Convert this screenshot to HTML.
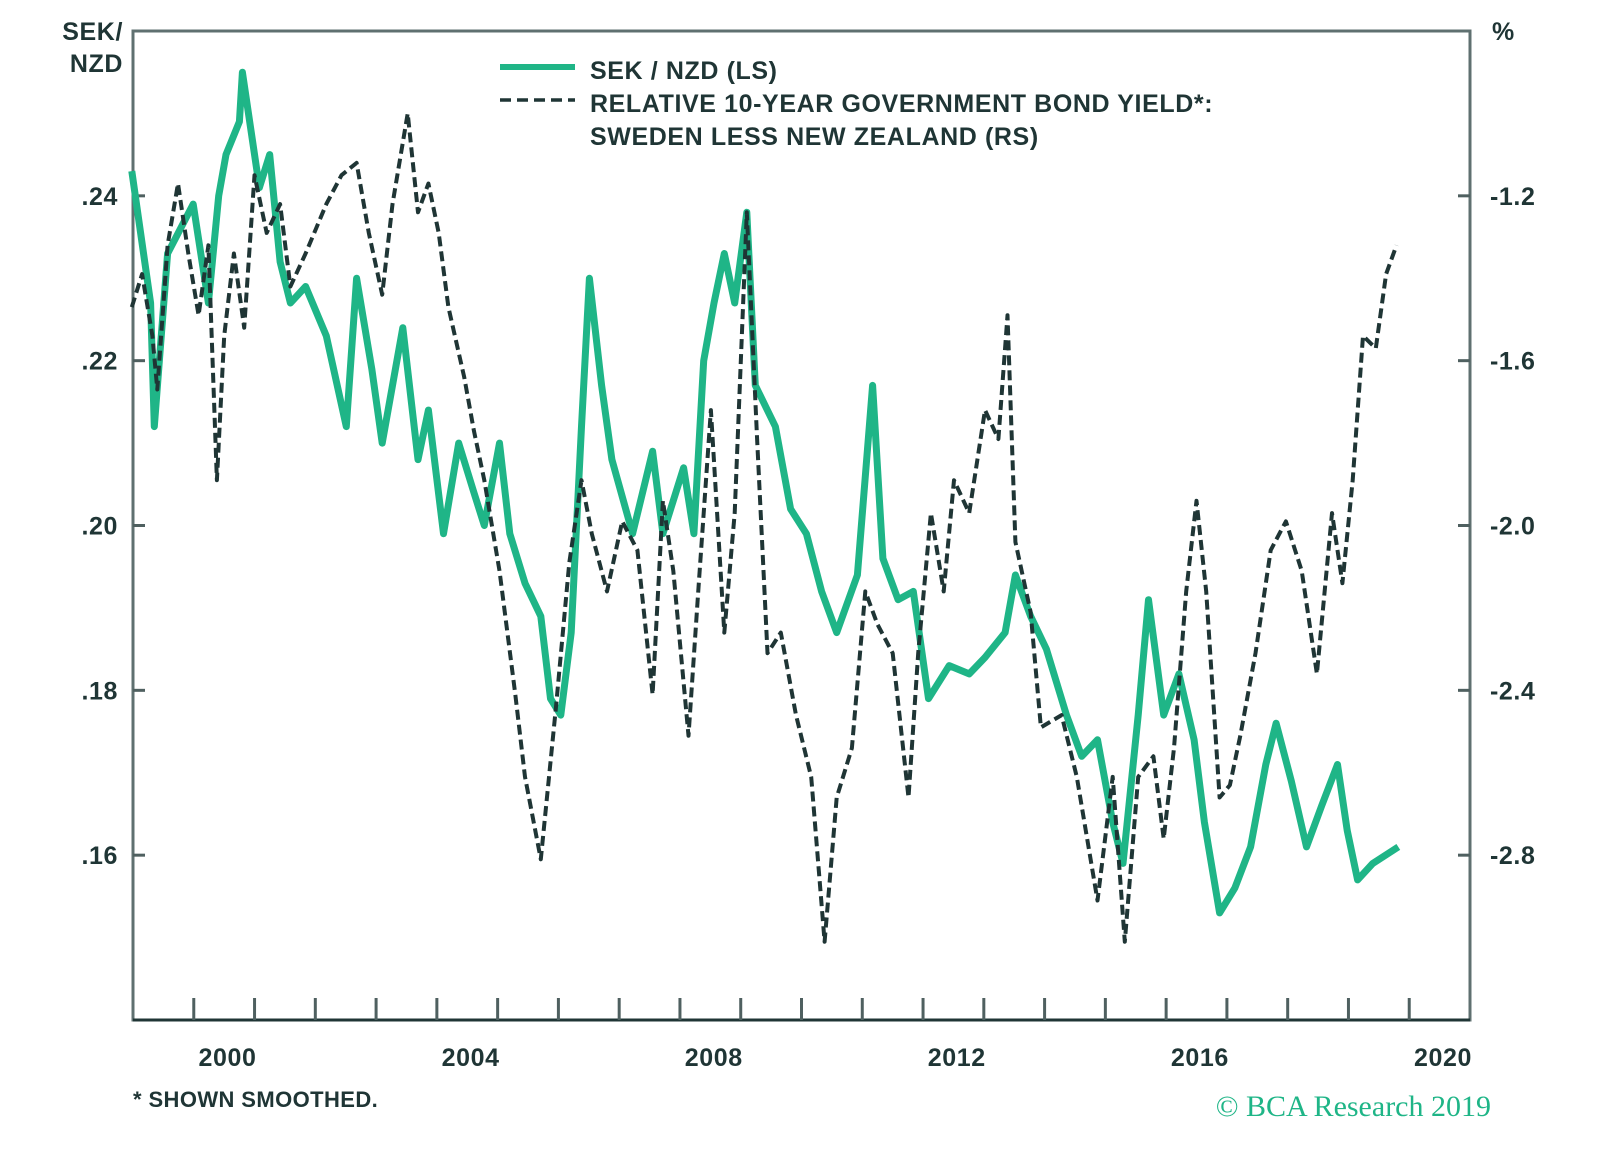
<!DOCTYPE html>
<html><head><meta charset="utf-8">
<style>
html,body{margin:0;padding:0;background:#fff;}
svg{display:block;font-family:"Liberation Sans",sans-serif;}
.lbl{font-weight:bold;fill:#1f3535;font-size:25px;letter-spacing:0.6px;}
</style></head>
<body>
<svg id="chart" width="1600" height="1161" viewBox="0 0 1600 1161" xmlns="http://www.w3.org/2000/svg">
<g id="axes"></g>
<g id="series"></g>
<g>
<line x1="500" y1="67" x2="575" y2="67" stroke="#1fb587" stroke-width="6"/>
<text class="lbl" x="590" y="79">SEK / NZD (LS)</text>
<line x1="500" y1="100" x2="575" y2="100" stroke="#1f3535" stroke-width="3.5" stroke-dasharray="11,6"/>
<text class="lbl" x="590" y="112">RELATIVE 10-YEAR GOVERNMENT BOND YIELD*:</text>
<text class="lbl" x="590" y="145">SWEDEN LESS NEW ZEALAND (RS)</text>
</g>
<text class="lbl" x="123" y="40" text-anchor="end">SEK/</text>
<text class="lbl" x="123" y="72" text-anchor="end">NZD</text>
<text class="lbl" x="1492" y="40">%</text>
<text class="lbl" x="133" y="1107" style="font-size:22px;letter-spacing:0.4px">* SHOWN SMOOTHED.</text>
<text x="1491" y="1116" text-anchor="end" style="font-family:'Liberation Serif',serif;font-size:30px;fill:#1fb587">© BCA Research 2019</text>
</svg>
<script>
const xMin = 1998, xMax = 2020;
const leftMin = 0.14, leftMax = 0.26;
const rightMin = -3.2, rightMax = -0.8;
const leftTicks = [0.16, 0.18, 0.20, 0.22, 0.24];
const leftTickLabels = [".16", ".18", ".20", ".22", ".24"];
const rightTicks = [-2.8, -2.4, -2.0, -1.6, -1.2];
const rightTickLabels = ["-2.8", "-2.4", "-2.0", "-1.6", "-1.2"];
const yearLabels = [2000, 2004, 2008, 2012, 2016, 2020];

const sekYears = [1997.98,1998.29,1998.35,1998.57,1998.99,1999.24,1999.41,1999.53,1999.75,1999.80,2000.08,2000.25,2000.42,2000.59,2000.84,2001.18,2001.51,2001.68,2001.93,2002.10,2002.44,2002.69,2002.86,2003.11,2003.36,2003.61,2003.78,2004.03,2004.20,2004.45,2004.71,2004.87,2005.04,2005.21,2005.38,2005.51,2005.71,2005.88,2006.22,2006.55,2006.72,2007.06,2007.23,2007.39,2007.56,2007.73,2007.90,2008.10,2008.24,2008.57,2008.82,2009.08,2009.33,2009.58,2009.92,2010.17,2010.34,2010.59,2010.84,2011.09,2011.43,2011.76,2012.02,2012.35,2012.52,2012.77,2013.03,2013.36,2013.61,2013.87,2014.12,2014.29,2014.54,2014.71,2014.96,2015.21,2015.46,2015.63,2015.88,2016.13,2016.39,2016.64,2016.81,2017.06,2017.31,2017.56,2017.82,2017.98,2018.15,2018.40,2018.82];
const sekValues = [0.243,0.227,0.212,0.233,0.239,0.227,0.240,0.245,0.249,0.255,0.241,0.245,0.232,0.227,0.229,0.223,0.212,0.230,0.219,0.210,0.224,0.208,0.214,0.199,0.210,0.204,0.200,0.210,0.199,0.193,0.189,0.179,0.177,0.187,0.212,0.230,0.217,0.208,0.199,0.209,0.199,0.207,0.199,0.220,0.227,0.233,0.227,0.238,0.217,0.212,0.202,0.199,0.192,0.187,0.194,0.217,0.196,0.191,0.192,0.179,0.183,0.182,0.184,0.187,0.194,0.189,0.185,0.177,0.172,0.174,0.164,0.159,0.177,0.191,0.177,0.182,0.174,0.164,0.153,0.156,0.161,0.171,0.176,0.169,0.161,0.166,0.171,0.163,0.157,0.159,0.161];

const yieldYears = [1997.98,1998.15,1998.32,1998.40,1998.57,1998.74,1998.91,1999.08,1999.24,1999.38,1999.50,1999.66,1999.83,2000.00,2000.20,2000.42,2000.59,2000.84,2001.18,2001.43,2001.68,2001.88,2002.10,2002.27,2002.52,2002.69,2002.86,2003.03,2003.19,2003.45,2003.61,2003.78,2004.03,2004.29,2004.45,2004.71,2004.96,2005.18,2005.38,2005.55,2005.80,2006.05,2006.30,2006.55,2006.72,2006.89,2007.14,2007.31,2007.51,2007.73,2007.90,2008.10,2008.27,2008.44,2008.66,2008.91,2009.16,2009.38,2009.58,2009.83,2010.05,2010.25,2010.50,2010.76,2010.92,2011.13,2011.34,2011.51,2011.76,2012.02,2012.24,2012.39,2012.52,2012.77,2012.94,2013.28,2013.53,2013.87,2014.12,2014.32,2014.54,2014.79,2014.96,2015.13,2015.33,2015.50,2015.66,2015.88,2016.05,2016.22,2016.47,2016.72,2016.97,2017.23,2017.48,2017.73,2017.90,2018.07,2018.24,2018.45,2018.62,2018.79];
const yieldValues = [-1.47,-1.39,-1.54,-1.67,-1.32,-1.17,-1.34,-1.49,-1.32,-1.89,-1.54,-1.34,-1.52,-1.15,-1.29,-1.22,-1.42,-1.34,-1.22,-1.15,-1.12,-1.29,-1.44,-1.22,-1.00,-1.24,-1.17,-1.29,-1.47,-1.64,-1.77,-1.89,-2.11,-2.41,-2.61,-2.81,-2.44,-2.09,-1.89,-2.02,-2.16,-1.99,-2.06,-2.41,-1.94,-2.11,-2.51,-2.14,-1.72,-2.26,-1.97,-1.24,-1.79,-2.31,-2.26,-2.46,-2.61,-3.01,-2.66,-2.54,-2.16,-2.24,-2.31,-2.66,-2.31,-1.97,-2.16,-1.89,-1.97,-1.72,-1.79,-1.49,-2.04,-2.21,-2.49,-2.46,-2.61,-2.91,-2.61,-3.01,-2.61,-2.56,-2.76,-2.54,-2.16,-1.94,-2.16,-2.66,-2.63,-2.51,-2.31,-2.06,-1.99,-2.11,-2.36,-1.97,-2.14,-1.89,-1.54,-1.57,-1.39,-1.32];

const L = 133, R = 1470, T = 31, B = 1020;
const NS = "http://www.w3.org/2000/svg";
function xS(y){ return L + (y - xMin) / (xMax - xMin) * (R - L); }
function yL(v){ return B - (v - leftMin) / (leftMax - leftMin) * (B - T); }
function yR(v){ return B - (v - rightMin) / (rightMax - rightMin) * (B - T); }
function mk(tag, attrs, parent){ const e = document.createElementNS(NS, tag); for (const k in attrs) e.setAttribute(k, attrs[k]); parent.appendChild(e); return e; }

const axes = document.getElementById('axes');
const series = document.getElementById('series');

const frame = mk('rect', {x:L, y:T, width:R-L, height:B-T, fill:'none', stroke:'#5f7070', 'stroke-width':3}, axes);


const xAxis = mk('line', {x1:L, y1:B, x2:R, y2:B, stroke:'#1f3535', 'stroke-width':3}, axes);



for (let yr = 1999; yr < xMax; yr++) {
  const t = mk('line', {x1:xS(yr), y1:B, x2:xS(yr), y2:B-22, stroke:'#4f6060', 'stroke-width':3}, axes);
  
  
}
yearLabels.forEach(yr => {
  const t = mk('text', {x:xS(yr)+2, y:1066, 'text-anchor':'end', class:'lbl'}, axes);
  t.textContent = yr;
  
  
});
leftTicks.forEach((v, i) => {
  const t = mk('line', {x1:L, y1:yL(v), x2:L+12, y2:yL(v), stroke:'#4f6060', 'stroke-width':3}, axes);
  
  
  const s = mk('text', {x:118, y:yL(v)+9, 'text-anchor':'end', class:'lbl'}, axes);
  s.textContent = leftTickLabels[i];
  
  
});
rightTicks.forEach((v, i) => {
  const t = mk('line', {x1:R-12, y1:yR(v), x2:R, y2:yR(v), stroke:'#4f6060', 'stroke-width':3}, axes);
  
  
  const s = mk('text', {x:1490, y:yR(v)+9, class:'lbl'}, axes);
  s.textContent = rightTickLabels[i];
  
  
});

const gp = sekYears.map((y, i) => xS(y).toFixed(1) + ',' + yL(sekValues[i]).toFixed(1)).join(' ');
const green = mk('polyline', {points:gp, fill:'none', stroke:'#1fb587', 'stroke-width':7, 'stroke-linejoin':'round'}, series);



const dp = yieldYears.map((y, i) => xS(y).toFixed(1) + ',' + yR(yieldValues[i]).toFixed(1)).join(' ');
const dash = mk('polyline', {points:dp, fill:'none', stroke:'#1f3535', 'stroke-width':4, 'stroke-dasharray':'10,5', 'stroke-linejoin':'round'}, series);


</script>
</body></html>
